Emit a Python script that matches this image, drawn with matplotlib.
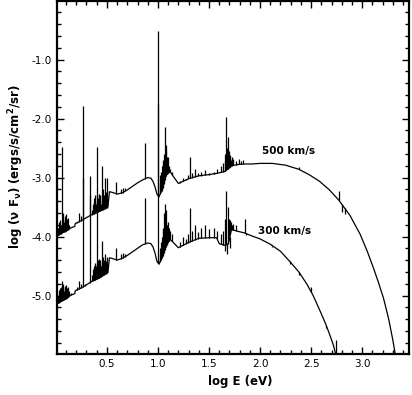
import matplotlib
matplotlib.use("Agg")
import matplotlib.pyplot as plt
import numpy as np

# continuum, 500 km/s
x500 = [0.0, 0.05, 0.10, 0.15, 0.185, 0.19, 0.25, 0.30, 0.35, 0.40, 0.45, 0.51, 0.525,
        0.55, 0.60, 0.65, 0.70, 0.75, 0.80, 0.85, 0.90, 0.93, 0.95, 0.97, 0.99, 1.01,
        1.04, 1.08, 1.12, 1.15, 1.20, 1.30, 1.40, 1.50, 1.575, 1.60, 1.65, 1.69, 1.72,
        1.78, 1.85, 1.92, 2.00, 2.12, 2.25, 2.38, 2.48, 2.58, 2.68, 2.77, 2.88, 2.98,
        3.05, 3.11, 3.16, 3.21, 3.26, 3.30, 3.33]
y500 = [-4.00, -3.95, -3.90, -3.85, -3.83, -3.78, -3.73, -3.68, -3.63, -3.59, -3.55, -3.50, -3.24,
        -3.25, -3.28, -3.26, -3.21, -3.15, -3.09, -3.04, -3.00, -3.01, -3.06, -3.15, -3.28, -3.33,
        -3.20, -2.95, -2.90, -2.98, -3.10, -3.02, -2.97, -2.95, -2.93, -2.92, -2.90, -2.85, -2.80,
        -2.78, -2.77, -2.77, -2.76, -2.76, -2.79, -2.86, -2.95, -3.06, -3.21, -3.38, -3.64, -3.96,
        -4.25, -4.53, -4.78, -5.05, -5.40, -5.75, -6.05]

# continuum, 300 km/s
x300 = [0.0, 0.05, 0.10, 0.15, 0.185, 0.19, 0.25, 0.30, 0.35, 0.40, 0.45, 0.51, 0.525,
        0.55, 0.60, 0.65, 0.70, 0.75, 0.80, 0.85, 0.90, 0.93, 0.95, 0.97, 0.99, 1.01,
        1.04, 1.08, 1.12, 1.15, 1.20, 1.30, 1.40, 1.50, 1.575, 1.60, 1.65, 1.69, 1.72,
        1.78, 1.85, 1.92, 2.00, 2.10, 2.20, 2.29, 2.38, 2.46, 2.52, 2.59, 2.64, 2.69,
        2.72, 2.75]
y300 = [-5.15, -5.10, -5.05, -4.99, -4.97, -4.92, -4.87, -4.82, -4.76, -4.72, -4.67, -4.61, -4.36,
        -4.37, -4.40, -4.37, -4.32, -4.26, -4.20, -4.14, -4.11, -4.12, -4.17, -4.27, -4.42, -4.47,
        -4.35, -4.15, -4.05, -4.10, -4.19, -4.10, -4.03, -4.02, -4.02, -4.12, -4.15, -4.12, -3.88,
        -3.91, -3.94, -3.99, -4.04, -4.13, -4.25, -4.42, -4.60, -4.81, -5.00, -5.27, -5.47, -5.70,
        -5.85, -6.06]

# emission / absorption lines: position and tip
lx500 = [0.02, 0.03, 0.035, 0.045, 0.05, 0.062, 0.07, 0.075, 0.08, 0.085, 0.09, 0.095, 0.10,
         0.105, 0.11, 0.115, 0.12, 0.13, 0.145, 0.21, 0.23, 0.245, 0.27, 0.285, 0.33,
         0.35, 0.36, 0.37, 0.375, 0.38, 0.385, 0.39, 0.40, 0.405, 0.41, 0.415, 0.42, 0.425,
         0.43, 0.435, 0.44, 0.45, 0.455, 0.46, 0.465, 0.47, 0.48, 0.49, 0.50, 0.585,
         0.64, 0.655, 0.68, 0.873, 1.0, 1.02, 1.025, 1.03, 1.035, 1.04, 1.045, 1.05,
         1.055, 1.06, 1.065, 1.07, 1.075, 1.08, 1.085, 1.09, 1.10, 1.11, 1.12, 1.14,
         1.22, 1.25, 1.27, 1.29, 1.31, 1.33, 1.36, 1.39, 1.42, 1.46, 1.50, 1.55, 1.58,
         1.62, 1.64, 1.655, 1.66, 1.67, 1.68, 1.69, 1.70, 1.705, 1.71, 1.72, 1.73, 1.74,
         1.76, 1.79, 1.81, 1.83, 2.38, 2.77, 2.80, 2.83]
ly500 = [-3.85, -3.80, -3.75, -3.72, -3.80, -2.49, -3.70, -3.60, -3.75, -3.70, -3.65, -3.62, -3.72,
         -3.75, -3.70, -3.68, -3.78, -3.80, -3.85, -3.75, -3.60, -3.65, -1.79, -3.70, -2.97,
         -3.55, -3.45, -3.50, -3.35, -3.30, -3.40, -3.45, -2.48, -3.30, -3.35, -3.45, -3.40, -3.28,
         -3.30, -3.38, -3.45, -2.80, -3.30, -3.40, -3.20, -3.30, -3.00, -3.25, -3.00, -3.07,
         -3.20, -3.17, -3.18, -2.42, -0.52, -3.10, -2.95, -2.90, -2.80, -3.00, -2.70, -2.75,
         -2.85, -2.60, -2.75, -2.14, -2.55, -2.45, -2.65, -2.70, -2.65, -2.80, -2.85, -2.90,
         -3.05, -3.00, -3.02, -2.95, -2.65, -2.93, -2.85, -2.92, -2.90, -2.88, -2.93, -2.90, -2.85,
         -2.80, -2.75, -2.72, -2.60, -1.98, -2.50, -2.32, -2.55, -2.62, -2.65, -2.70, -2.66, -2.68,
         -2.72, -2.68, -2.72, -2.70, -2.82, -3.22, -3.58, -3.62]

lx300 = [0.02, 0.03, 0.035, 0.045, 0.05, 0.062, 0.07, 0.075, 0.08, 0.085, 0.09, 0.095, 0.10,
         0.105, 0.11, 0.115, 0.12, 0.13, 0.145, 0.21, 0.23, 0.245, 0.27, 0.285, 0.33,
         0.35, 0.36, 0.37, 0.375, 0.38, 0.385, 0.39, 0.40, 0.405, 0.41, 0.415, 0.42, 0.425,
         0.43, 0.435, 0.44, 0.45, 0.455, 0.46, 0.465, 0.47, 0.48, 0.49, 0.50, 0.585,
         0.64, 0.655, 0.68, 0.873, 1.0, 1.02, 1.025, 1.03, 1.035, 1.04, 1.045, 1.05,
         1.055, 1.06, 1.065, 1.07, 1.075, 1.08, 1.085, 1.09, 1.10, 1.11, 1.12, 1.14,
         1.22, 1.25, 1.27, 1.29, 1.31, 1.33, 1.36, 1.39, 1.42, 1.46, 1.50, 1.55, 1.58,
         1.62, 1.64, 1.655, 1.66, 1.67, 1.68, 1.69, 1.70, 1.705, 1.71, 1.72, 1.73, 1.74,
         1.76, 1.85, 1.86, 2.12, 2.29, 2.38, 2.50, 2.65, 2.745]
ly300 = [-5.00, -4.95, -4.90, -4.88, -4.85, -4.76, -4.86, -4.80, -4.92, -4.88, -4.84, -4.82, -4.90,
         -4.90, -4.87, -4.85, -4.93, -4.92, -4.95, -4.85, -4.75, -4.80, -3.00, -4.80, -3.30,
         -4.65, -4.55, -4.55, -4.50, -4.45, -4.48, -4.50, -3.50, -4.45, -4.40, -4.50, -4.45, -4.38,
         -4.39, -4.45, -4.50, -4.08, -4.42, -4.45, -4.35, -4.40, -4.30, -4.42, -4.35, -4.19,
         -4.30, -4.28, -4.30, -3.35, -1.75, -4.30, -4.20, -4.10, -4.00, -4.20, -3.85, -3.90,
         -4.00, -3.60, -3.80, -3.45, -3.75, -3.55, -3.80, -3.80, -3.75, -3.85, -3.90, -3.95,
         -4.10, -4.00, -4.05, -3.95, -3.51, -3.90, -3.80, -3.92, -3.85, -3.80, -3.88, -3.85, -3.90,
         -3.95, -3.90, -4.25, -3.70, -3.23, -4.30, -3.50, -3.70, -4.20, -3.72, -3.75, -3.80, -3.78,
         -3.80, -3.71, -3.98, -4.18, -4.47, -4.65, -4.86, -5.55, -5.75]

labels = ["500 km/s", "300 km/s"]
label_pos = [(2.28, -2.55), (2.24, -3.90)]

fig = plt.figure(figsize=(4.12, 3.95), dpi=100)
ax = fig.add_axes([0.138, 0.104, 0.855, 0.893])

for cx, cy, lx, ly in [(x500, y500, lx500, ly500), (x300, y300, lx300, ly300)]:
    ax.plot(cx, cy, color="black", lw=0.9)
    base = np.interp(lx, cx, cy)
    ax.vlines(lx, base, ly, color="black", lw=0.9)

for t, (tx, ty) in zip(labels, label_pos):
    ax.text(tx, ty, t, fontsize=7.5, fontweight="bold", ha="center", va="center")

ax.set_xlim(0.01, 3.46)
ax.set_ylim(-5.99, -0.01)
ax.set_xticks([0.5, 1.0, 1.5, 2.0, 2.5, 3.0])
ax.set_xticks(np.arange(0.1, 3.5, 0.1), minor=True)
ax.set_yticks([-5.0, -4.0, -3.0, -2.0, -1.0])
ax.set_yticks(np.arange(-5.8, -0.1, 0.2), minor=True)
ax.xaxis.set_major_formatter(matplotlib.ticker.FormatStrFormatter("%.1f"))
ax.yaxis.set_major_formatter(matplotlib.ticker.FormatStrFormatter("%.1f"))
ax.tick_params(which="both", direction="in", top=True, right=True, labelsize=7.5, width=1)
ax.tick_params(which="major", length=5)
ax.tick_params(which="minor", length=3)
for s in ax.spines.values():
    s.set_linewidth(1.6)

plt.rcParams["mathtext.default"] = "regular"
ax.set_xlabel("log E (eV)", fontsize=8.5, fontweight="bold")
ax.set_ylabel("log (ν F$_ν$) (ergs/s/cm$^2$/sr)", fontsize=8.5, fontweight="bold")
ax.xaxis.set_label_coords(0.52, -0.06)
ax.yaxis.set_label_coords(-0.088, 0.53)

plt.savefig("out.png", dpi=100)
